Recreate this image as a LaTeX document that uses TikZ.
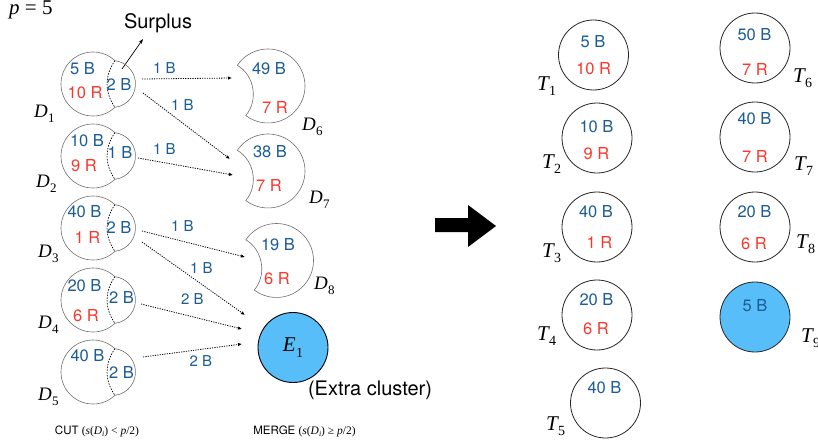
\RequirePackage{fix-cm}
\documentclass[tikz,border=0pt]{standalone}
\usepackage{fontspec}
\setmainfont{TeX Gyre Heros}
\newfontfamily\tms{Liberation Serif}
\usetikzlibrary{arrows.meta}
\definecolor{myblue}{RGB}{27,92,150}
\definecolor{myred}{RGB}{250,55,45}
\definecolor{ecol}{RGB}{87,190,250}
\definecolor{dgray}{RGB}{110,110,110}
\newcommand{\Dlab}[2]{{\fontsize{19}{20}\selectfont\tms\itshape #1\kern0.3pt\raisebox{-5pt}{\upshape\fontsize{13}{13}\selectfont #2}}}
\newcommand{\Tlab}[2]{{\fontsize{21}{22}\selectfont\tms\itshape #1\kern0.3pt\raisebox{-5.5pt}{\upshape\fontsize{14}{14}\selectfont #2}}}
\begin{document}
\begin{tikzpicture}[x=1pt,y=1pt,
  lbl/.style={inner sep=0pt,font=\fontsize{16.5}{18}\selectfont},
  bl/.style={lbl,text=myblue},
  rd/.style={lbl,text=myred},
  al/.style={inner sep=0pt,font=\fontsize{15}{17}\selectfont,text=myblue},
  ml/.style={inner sep=0pt,anchor=base west},
  tl/.style={inner sep=0pt,anchor=base west},
  dline/.style={draw=dgray,line width=0.6pt},
  tcirc/.style={circle,draw=black!85,line width=0.8pt,minimum size=70pt,inner sep=0pt},
  conn/.style={line width=0.8pt,dash pattern=on 1.2pt off 1.2pt,-{Latex[length=4pt,width=3.5pt]}},
  dcut/.pic={
    \draw[dline] (46.8:32) arc[start angle=46.8,end angle=313.2,radius=32]
                 arc[start angle=-82.9,end angle=82.9,radius=23.5] -- cycle;
    \draw[line width=0.7pt,dash pattern=on 1.5pt off 1.3pt] (46.8:32) to[bend right=35] (-46.8:32);
  },
  crescent/.pic={
    \draw[dline] (146:37) arc[start angle=146,end angle=-127,radius=37] to[bend right=50] (146:37) -- cycle;
  }
]
\useasboundingbox (0,0) rectangle (818,-444);

% p = 5
\node[tl] (p5) at (9,-15) {\fontsize{21}{22}\selectfont\tms{\itshape p} = 5};

% Surplus
\node[inner sep=0pt,font=\fontsize{20}{22}\selectfont] (surplus) at (158,-23) {Surplus};
\coordinate (sps) at (122,-69);
\coordinate (spe) at (143,-39);
\draw[line width=0.7pt,-{Stealth[length=5pt,width=3.5pt]}] (sps) -- (spe);

% D shapes (cut)
\pic at (93,-84) {dcut};
\pic at (93,-156) {dcut};
\pic at (93,-228) {dcut};
\pic at (93,-300) {dcut};
\pic at (93,-372) {dcut};

\node[bl] (d1b) at (82.5,-69) {5 B};
\node[rd] (d1r) at (85,-92.5) {10 R};
\node[bl] (d1s) at (119,-84) {2 B};
\node[bl] (d2b) at (87,-141) {10 B};
\node[rd] (d2r) at (84,-165.5) {9 R};
\node[bl] (d2s) at (120,-152.5) {1 B};
\node[bl] (d3b) at (84.5,-212) {40 B};
\node[rd] (d3r) at (87.5,-237) {1 R};
\node[bl] (d3s) at (119,-227.5) {2 B};
\node[bl] (d4b) at (84.5,-286) {20 B};
\node[rd] (d4r) at (86,-315.5) {6 R};
\node[bl] (d4s) at (121.5,-297.5) {2 B};
\node[bl] (d5b) at (87.5,-356) {40 B};
\node[bl] (d5s) at (121.5,-372) {2 B};

\node[ml] (D1) at (34,-117) {\Dlab{D}{1}};
\node[ml] (D2) at (36,-187) {\Dlab{D}{2}};
\node[ml] (D3) at (38,-257) {\Dlab{D}{3}};
\node[ml] (D4) at (38,-328) {\Dlab{D}{4}};
\node[ml] (D5) at (38,-400) {\Dlab{D}{5}};

% crescents (merge)
\pic at (268,-86) {crescent};
\pic at (268,-171) {crescent};
\pic at (276.5,-260.5) {crescent};
\node[bl] (d6b) at (269,-69) {49 B};
\node[rd] (d6r) at (275,-107) {7 R};
\node[bl] (d7b) at (270,-152) {38 B};
\node[rd] (d7r) at (269,-185) {7 R};
\node[bl] (d8b) at (278,-245) {19 B};
\node[rd] (d8r) at (277,-279) {6 R};
\node[ml] (D6) at (302,-130) {\Dlab{D}{6}};
\node[ml] (D7) at (309,-203) {\Dlab{D}{7}};
\node[ml] (D8) at (314,-289) {\Dlab{D}{8}};

% extra cluster
\node[circle,draw=black,line width=0.9pt,fill=ecol,minimum size=70pt,inner sep=0pt] (E1) at (293,-347.5) {\Tlab{E}{1}};
\node[inner sep=0pt,font=\fontsize{20}{22}\selectfont] (extra) at (370,-390) {(Extra cluster)};

% connectors
\coordinate (a1s) at (142,-79);  \coordinate (a1e) at (232,-78);
\coordinate (a2s) at (143,-93);  \coordinate (a2e) at (230,-159);
\coordinate (a3s) at (138,-158); \coordinate (a3e) at (233,-175);
\coordinate (a4s) at (142,-231); \coordinate (a4e) at (245,-257);
\coordinate (a5s) at (142,-242); \coordinate (a5e) at (245,-315);
\coordinate (a6s) at (141,-304); \coordinate (a6e) at (242,-329);
\coordinate (a7s) at (143,-357); \coordinate (a7e) at (242,-344);
\draw[conn] (a1s) -- (a1e);
\draw[conn] (a2s) -- (a2e);
\draw[conn] (a3s) -- (a3e);
\draw[conn] (a4s) -- (a4e);
\draw[conn] (a5s) -- (a5e);
\draw[conn] (a6s) -- (a6e);
\draw[conn] (a7s) -- (a7e);
\node[al] (l1) at (164.5,-68.5) {1 B};
\node[al] (l2) at (182.5,-105.5) {1 B};
\node[al] (l3) at (164.5,-149.5) {1 B};
\node[al] (l4) at (182.5,-226) {1 B};
\node[al] (l5) at (201.5,-268.5) {1 B};
\node[al] (l6) at (192.5,-299.5) {2 B};
\node[al] (l7) at (201,-361) {2 B};

% captions
\node[inner sep=0pt,font=\fontsize{11.5}{13}\selectfont] (cut) at (97,-431) {CUT {\tms(\textit{s}(\textit{D}\raisebox{-2pt}{\fontsize{8}{8}\selectfont\textit{i}}) \textless{} \textit{p}/2)}};
\node[inner sep=0pt,font=\fontsize{11.5}{13}\selectfont] (merge) at (304.5,-431) {MERGE {\tms(\textit{s}(\textit{D}\raisebox{-2pt}{\fontsize{8}{8}\selectfont\textit{i}}) ≥ \textit{p}/2)}};

% big arrow
\fill[black] (435,-218) -- (468,-218) -- (468,-205) -- (496,-226) -- (468,-247) -- (468,-232) -- (435,-232) -- cycle;

% T circles
\node[tcirc] (T1c) at (593.5,-55) {};
\node[tcirc] (T2c) at (597,-138) {};
\node[tcirc] (T3c) at (597,-227) {};
\node[tcirc] (T4c) at (597,-315) {};
\node[tcirc] (T5c) at (605.5,-403) {};
\node[tcirc] (T6c) at (755,-48) {};
\node[tcirc] (T7c) at (755,-137) {};
\node[tcirc] (T8c) at (755,-227) {};
\node[tcirc,fill=ecol] (T9c) at (755,-317) {};

\node[bl] (t1b) at (593,-41.5) {5 B};
\node[rd] (t1r) at (593.5,-69) {10 R};
\node[bl] (t2b) at (596.5,-126.5) {10 B};
\node[rd] (t2r) at (596.5,-154) {9 R};
\node[bl] (t3b) at (596,-212) {40 B};
\node[rd] (t3r) at (599.5,-242) {1 R};
\node[bl] (t4b) at (596.5,-299.5) {20 B};
\node[rd] (t4r) at (596,-329) {6 R};
\node[bl] (t5b) at (604.5,-388) {40 B};
\node[bl] (t6b) at (754.5,-35) {50 B};
\node[rd] (t6r) at (755,-69) {7 R};
\node[bl] (t7b) at (754.5,-119) {40 B};
\node[rd] (t7r) at (755,-156) {7 R};
\node[bl] (t8b) at (754.5,-212) {20 B};
\node[rd] (t8r) at (754,-244) {6 R};
\node[bl] (t9b) at (755,-305.5) {5 B};

\node[tl] (T1) at (537,-90) {\Tlab{T}{1}};
\node[tl] (T2) at (542,-168) {\Tlab{T}{2}};
\node[tl] (T3) at (542,-257) {\Tlab{T}{3}};
\node[tl] (T4) at (537,-340) {\Tlab{T}{4}};
\node[tl] (T5) at (546,-430) {\Tlab{T}{5}};
\node[tl] (T6) at (793,-82) {\Tlab{T}{6}};
\node[tl] (T7) at (794,-170) {\Tlab{T}{7}};
\node[tl] (T8) at (796,-248) {\Tlab{T}{8}};
\node[tl] (T9) at (801,-342) {\Tlab{T}{9}};
\end{tikzpicture}
\end{document}
